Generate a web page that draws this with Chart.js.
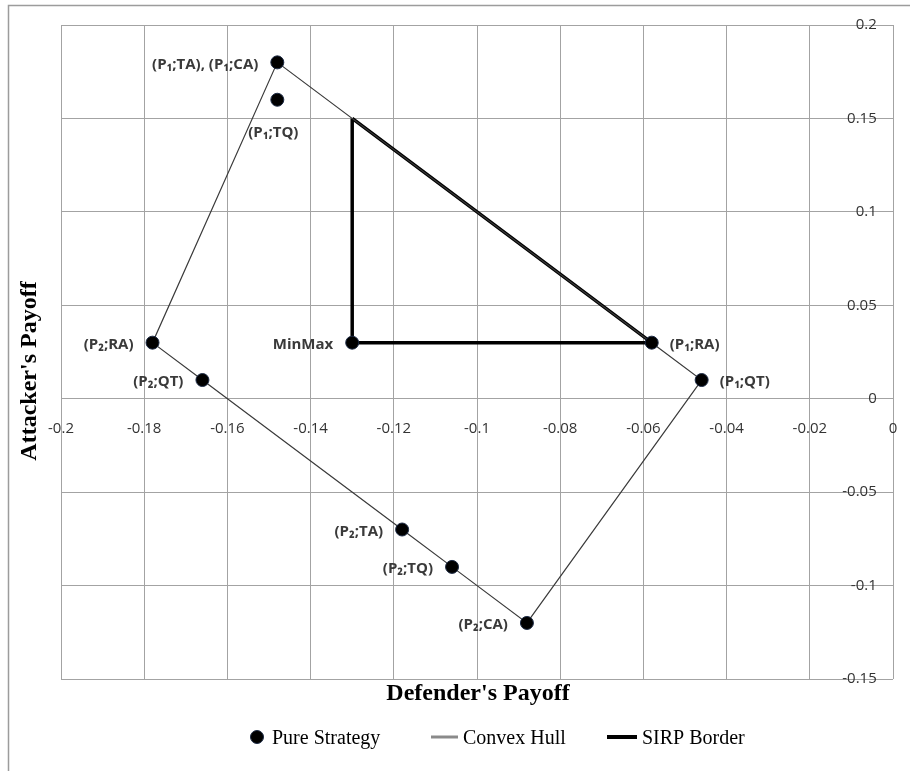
<!DOCTYPE html>
<html>
<head>
<meta charset="utf-8">
<script src="https://cdn.jsdelivr.net/npm/chart.js@4/dist/chart.umd.min.js"></script>
<style>
  html, body { margin: 0; padding: 0; background: #fff; }
  #wrap { position: relative; width: 910px; height: 771px; }
</style>
</head>
<body>
<div id="wrap"><canvas id="payoff-chart" width="910" height="771"></canvas></div>
<script>
// pure strategies (defender payoff, attacker payoff)
const strategyNames = ['(P₁;TA), (P₁;CA)', '(P₁;TQ)', '(P₂;RA)', '(P₂;QT)', 'MinMax', '(P₁;RA)', '(P₁;QT)', '(P₂;TA)', '(P₂;TQ)', '(P₂;CA)'];
const defenderPayoff = [-0.148, -0.148, -0.178, -0.166, -0.13, -0.058, -0.046, -0.118, -0.106, -0.088];
const attackerPayoff = [0.18, 0.16, 0.03, 0.01, 0.03, 0.03, 0.01, -0.07, -0.09, -0.12];

// convex hull walks these strategies in order (closed)
const hullOrder = [0, 2, 3, 7, 8, 9, 6, 5, 0];

// SIRP border triangle
const sirpDefender = [-0.13, -0.13, -0.058, -0.13];
const sirpAttacker = [0.15, 0.03, 0.03, 0.15];

// axis ticks
const xTicks = [-0.2, -0.18, -0.16, -0.14, -0.12, -0.1, -0.08, -0.06, -0.04, -0.02, 0];
const yTicks = [0.2, 0.15, 0.1, 0.05, 0, -0.05, -0.1, -0.15];

const seriesNames = ['Pure Strategy', 'Convex Hull', 'SIRP Border'];

// where each point label sits relative to its marker
const labelSide = ['left', 'below', 'left', 'left', 'left', 'right', 'right', 'left', 'left', 'left'];

const gridColor = '#a3a3a3';
const tickFont = { family: 'Open Sans', size: 15 };

const fmt = v => String(parseFloat(Number(v).toFixed(2)));

const pointLabels = {
  id: 'pointLabels',
  afterDatasetsDraw(chart) {
    const ctx = chart.ctx;
    const meta = chart.getDatasetMeta(0);
    ctx.save();
    ctx.font = 'bold 15px "Open Sans"';
    ctx.fillStyle = '#3a3a3a';
    ctx.textBaseline = 'middle';
    meta.data.forEach((pt, i) => {
      const side = labelSide[i];
      if (side === 'left') {
        ctx.textAlign = 'right';
        ctx.fillText(strategyNames[i], pt.x - 19, pt.y + 2);
      } else if (side === 'right') {
        ctx.textAlign = 'left';
        ctx.fillText(strategyNames[i], pt.x + 18, pt.y + 2);
      } else {
        ctx.textAlign = 'center';
        ctx.fillText(strategyNames[i], pt.x - 4, pt.y + 33);
      }
    });
    ctx.restore();
  }
};

const frameAndTitles = {
  id: 'frameAndTitles',
  beforeDraw(chart) {
    const ctx = chart.ctx;
    ctx.save();
    ctx.strokeStyle = '#9c9c9c';
    ctx.lineWidth = 1.5;
    ctx.beginPath();
    ctx.moveTo(8.5, 771);
    ctx.lineTo(8.5, 5.5);
    ctx.lineTo(910, 5.5);
    ctx.stroke();
    ctx.restore();
  },
  afterDraw(chart) {
    const ctx = chart.ctx;
    ctx.save();
    ctx.fillStyle = '#000';
    ctx.font = 'bold 24px "Liberation Serif"';
    ctx.textAlign = 'center';
    ctx.textBaseline = 'middle';
    ctx.fillText("Defender's Payoff", 478, 694);

    ctx.translate(30, 371);
    ctx.rotate(-Math.PI / 2);
    ctx.fillText("Attacker's Payoff", 0, 0);
    ctx.restore();

    // legend
    ctx.save();
    ctx.font = '20px "Liberation Serif"';
    ctx.fillStyle = '#000';
    ctx.textAlign = 'left';
    ctx.textBaseline = 'alphabetic';
    const ly = 737;

    ctx.beginPath();
    ctx.arc(257, ly, 6.5, 0, Math.PI * 2);
    ctx.fillStyle = '#000';
    ctx.fill();
    ctx.strokeStyle = '#1c2a44';
    ctx.lineWidth = 1;
    ctx.stroke();
    ctx.fillText(seriesNames[0], 272, ly + 7);

    ctx.strokeStyle = '#8a8a8a';
    ctx.lineWidth = 3;
    ctx.beginPath();
    ctx.moveTo(431, ly);
    ctx.lineTo(458, ly);
    ctx.stroke();
    ctx.fillText(seriesNames[1], 463, ly + 7);

    ctx.strokeStyle = '#000';
    ctx.lineWidth = 4;
    ctx.beginPath();
    ctx.moveTo(607, ly);
    ctx.lineTo(637, ly);
    ctx.stroke();
    ctx.fillText(seriesNames[2], 642, ly + 7);
    ctx.restore();
  }
};

// tick marks are invisible; their length only pushes the labels away from the axis
const hiddenTick = 'rgba(0,0,0,0)';

const ctx = document.getElementById('payoff-chart').getContext('2d');
new Chart(ctx, {
  type: 'scatter',
  data: {
    datasets: [
      {
        label: seriesNames[0],
        data: defenderPayoff.map((x, i) => ({ x, y: attackerPayoff[i] })),
        backgroundColor: '#000',
        borderColor: '#1c2a44',
        borderWidth: 1,
        pointRadius: 6.5,
        pointHoverRadius: 6.5
      },
      {
        label: seriesNames[1],
        data: hullOrder.map(i => ({ x: defenderPayoff[i], y: attackerPayoff[i] })),
        showLine: true,
        borderColor: '#3a3a3a',
        borderWidth: 1.2,
        pointRadius: 0,
        tension: 0
      },
      {
        label: seriesNames[2],
        data: sirpDefender.map((x, i) => ({ x, y: sirpAttacker[i] })),
        showLine: true,
        borderColor: '#000',
        borderWidth: 3.5,
        borderJoinStyle: 'miter',
        pointRadius: 0,
        tension: 0
      }
    ]
  },
  options: {
    responsive: false,
    animation: false,
    devicePixelRatio: 1,
    layout: { padding: { left: 61, top: 25, right: 17, bottom: 92 } },
    plugins: {
      legend: { display: false },
      tooltip: { enabled: false }
    },
    scales: {
      x: {
        type: 'linear',
        position: { y: 0 },
        min: xTicks[0],
        max: xTicks[xTicks.length - 1],
        afterBuildTicks: scale => { scale.ticks = xTicks.map(v => ({ value: v })); },
        grid: { color: gridColor, lineWidth: 1, drawTicks: true, tickLength: 21, tickColor: hiddenTick },
        border: { color: gridColor, width: 1 },
        ticks: {
          autoSkip: false,
          maxRotation: 0,
          padding: 0,
          color: '#333',
          font: tickFont,
          callback: fmt
        }
      },
      y: {
        type: 'linear',
        // labels hang just inside the right edge of the plot
        position: { x: -0.0039 },
        min: yTicks[yTicks.length - 1],
        max: yTicks[0],
        afterBuildTicks: scale => { scale.ticks = yTicks.map(v => ({ value: v })); },
        grid: { color: gridColor, lineWidth: 1, drawTicks: false },
        border: { display: false },
        ticks: {
          autoSkip: false,
          padding: 0,
          color: '#333',
          font: tickFont,
          callback: fmt
        }
      }
    }
  },
  plugins: [frameAndTitles, pointLabels]
});
</script>
</body>
</html>
